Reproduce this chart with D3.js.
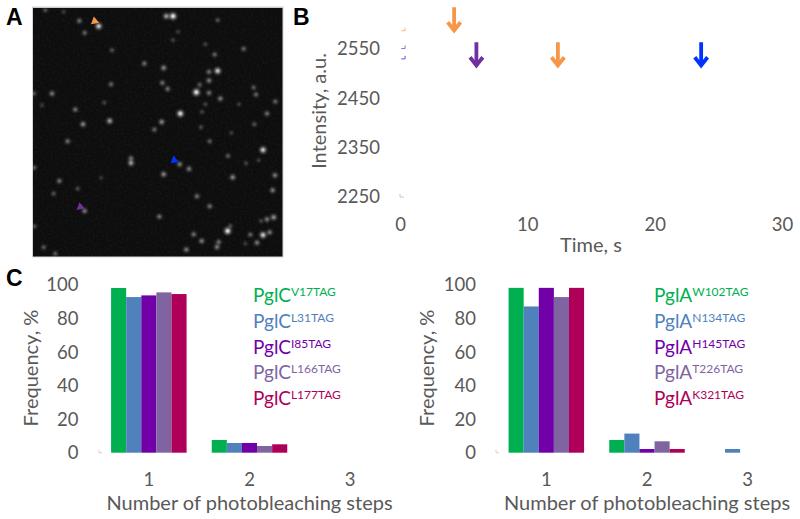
<!DOCTYPE html>
<html>
<head>
<meta charset="utf-8">
<script src="https://cdn.jsdelivr.net/npm/d3@7"></script>
<style>
html,body{margin:0;padding:0;background:#fff;}
svg{display:block;}
text{font-family:Lato,"Open Sans",sans-serif;fill:#595959;}
.panel{font-family:"Liberation Sans",sans-serif;font-weight:bold;font-size:23px;fill:#000;}
.tick text{font-size:18.5px;}
.lab{font-size:20px;}
.leg{font-size:19px;}
.leg .sup{font-size:12px;}
</style>
</head>
<body>
<svg id="fig" width="800" height="519"></svg>
<script>
const spotX = [37,92,139,197,155,400,420,554,435,420,237,334,392,517,545,632,528,554,528,500,388,404,234,57,2,490,528,562,662,669,727,214,27,127,517,507,618,442,702,230,386,150,664,364,504,595,104,530,690,294,294,585,677,639,440,468,4,392,599,726,204,79,134,62,719,492,530,155,379,722,702,684,4,584,592,482,652,690,710,506,557,552,672,637,32,460,67];
const spotY = [30,35,62,78,98,48,48,60,95,120,150,190,203,132,163,146,215,212,241,254,248,266,252,280,280,276,278,295,262,283,304,307,315,328,312,335,312,340,340,362,365,372,372,388,381,398,423,423,449,474,488,467,480,489,492,506,502,522,531,525,533,542,565,580,570,588,618,632,649,651,657,662,678,692,677,702,703,704,696,722,725,740,727,730,741,748,760];
const spotB = [.35,.2,.5,.85,.45,.7,1,.35,.2,.25,.35,.5,.6,.25,.45,.45,.5,.85,.55,.4,.5,.5,.45,.55,.4,1,.5,.55,.4,.45,.45,.25,.2,.5,.25,.25,.2,.9,.5,.7,.6,.6,.35,.45,.3,.2,.5,.4,.85,.5,.7,.4,.2,.25,.55,.55,.4,.6,.6,.55,.15,.5,.3,.35,.55,.5,.5,.55,.5,.65,.55,.25,.35,.95,.3,.5,.45,.85,.55,.55,.5,.55,.55,.2,.4,.55,.4];
const markX = [185,424,142];
const markY = [63,480,620];
const markColors = ["#f79646","#0033ff","#7030a0"];

//panel B: only the arrows and the clipped trace ends are left in the figure
const intensityTicks = [2250,2350,2450,2550];
const timeTicks = [0,10,20,30];
const arrowTime = [4.25,6.0,12.4,23.65];
const arrowTip = [2584,2513,2513,2513];
const arrowColors = ["#f79646","#7030a0","#f79646","#0033ff"];
const stubIntensity = [2587,2551,2530];
const stubColors = ["#f9b27c","#9a70c0","#5a5ae8"];

//panel C
const steps = ["1","2","3"];
const freqTicks = [0,20,40,60,80,100];
const seriesColors = ["#00b050","#4f81bd","#7200a8","#8064a2","#ae0058"];
const pglC = [[98.2,92.8,93.8,95.6,94.6],[7.6,5.8,5.8,4,5],[0,0,0,0,0]];
const pglA = [[98.3,87.2,98.3,92.8,98.3],[7.6,11.4,2.2,6.8,2.2],[0,2.2,0,0,0]];
const pglCSup = ["V17TAG","L31TAG","I85TAG","L166TAG","L177TAG"];
const pglASup = ["W102TAG","N134TAG","H145TAG","T226TAG","K321TAG"];

const svg = d3.select("#fig");
const defs = svg.append("defs");

//soft spots for the micrograph
const grad = defs.append("radialGradient").attr("id","spot");
grad.append("stop").attr("offset","0%").attr("stop-color","#fff").attr("stop-opacity",1);
grad.append("stop").attr("offset","30%").attr("stop-color","#fff").attr("stop-opacity",.6);
grad.append("stop").attr("offset","65%").attr("stop-color","#fff").attr("stop-opacity",.15);
grad.append("stop").attr("offset","100%").attr("stop-color","#fff").attr("stop-opacity",0);

const noise = defs.append("filter").attr("id","grain").attr("x",0).attr("y",0).attr("width","100%").attr("height","100%");
noise.append("feTurbulence").attr("type","fractalNoise").attr("baseFrequency",.45).attr("numOctaves",2).attr("seed",4);
noise.append("feColorMatrix").attr("type","matrix").attr("values","0 0 0 0 1  0 0 0 0 1  0 0 0 0 1  0.55 0 0 0 -0.2");

defs.append("clipPath").attr("id","frame").append("rect")
	.attr("x",33).attr("y",7.5).attr("width",250).attr("height",249.5);

function panelA(){
	const fx = d3.scaleLinear().domain([0,750]).range([33,283]);
	const fy = d3.scaleLinear().domain([22,770]).range([7.5,257]);
	const g = svg.append("g").attr("clip-path","url(#frame)");
	g.append("rect").attr("x",33).attr("y",7.5).attr("width",250).attr("height",249.5).attr("fill","#0d0d0d");
	g.append("rect").attr("x",33).attr("y",7.5).attr("width",250).attr("height",249.5).attr("filter","url(#grain)").attr("opacity",.14);

	g.selectAll("circle").data(spotX).enter().append("circle")
		.attr("cx",d=>fx(d))
		.attr("cy",(d,i)=>fy(spotY[i]))
		.attr("r",(d,i)=>4+2*spotB[i])
		.attr("fill","url(#spot)")
		.attr("opacity",(d,i)=>.15+.85*spotB[i]*spotB[i]+.12*spotB[i]);

	//little coloured markers next to the picked spots
	g.selectAll("path").data(markX).enter().append("path")
		.attr("d",d3.symbol(d3.symbolTriangle,30))
		.attr("transform",(d,i)=>`translate(${fx(d)},${fy(markY[i])}) rotate(-10)`)
		.attr("fill",(d,i)=>markColors[i]);

	svg.append("rect").attr("x",32.5).attr("y",7).attr("width",250.5).attr("height",250)
		.attr("fill","none").attr("stroke","#d4d4d4");
}

function panelB(){
	const x = d3.scaleLinear().domain([0,30]).range([400,782]);
	const y = d3.scaleLinear().domain([2250,2550]).range([197,49]);

	const gy = svg.append("g").attr("transform","translate(380,0)")
		.call(d3.axisLeft(y).tickValues(intensityTicks).tickSize(0).tickPadding(0).tickFormat(d3.format("d")));
	gy.select(".domain").remove();
	const gx = svg.append("g").attr("transform","translate(0,218)")
		.call(d3.axisBottom(x).tickValues(timeTicks).tickSize(0).tickPadding(0));
	gx.select(".domain").remove();

	svg.append("text").attr("class","lab").attr("text-anchor","middle")
		.attr("transform","translate(326,111) rotate(-90)").text("Intensity, a.u.");
	svg.append("text").attr("class","lab").attr("text-anchor","middle")
		.attr("x",591).attr("y",252).text("Time, s");

	//trace ends at the left edge
	svg.selectAll(".stub").data(stubIntensity).enter().append("path")
		.attr("class","stub")
		.attr("d",d=>`M${x(0.1)},${y(d)}H${x(0.4)}v-3`)
		.attr("fill","none").attr("stroke",(d,i)=>stubColors[i]).attr("stroke-width",1);
	svg.append("path").attr("d",`M${x(0)},${y(2250)-3}v3H${x(0.3)}`)
		.attr("fill","none").attr("stroke","#c8c4d0");

	const arrows = svg.selectAll(".arrow").data(arrowTime).enter().append("g").attr("class","arrow")
		.attr("transform",(d,i)=>`translate(${x(d)},${y(arrowTip[i])})`)
		.attr("fill","none").attr("stroke-width",3.8)
		.attr("stroke",(d,i)=>arrowColors[i]);
	arrows.append("path").attr("d","M0,-25V-2");
	arrows.append("path").attr("d","M-6.4,-10L0,-1.8L6.4,-10");
}

function barPanel(left,right,vals,name,sups,labX,legX,stubX){
	const x0 = d3.scaleBand().domain(steps).range([left,right]).paddingInner(.25).paddingOuter(.125);
	const x1 = d3.scaleBand().domain(d3.range(5)).range([0,x0.bandwidth()]);
	const y = d3.scaleLinear().domain([0,100]).range([452.7,285]);

	const gy = svg.append("g").attr("transform",`translate(${left-20},0)`)
		.call(d3.axisLeft(y).tickValues(freqTicks).tickSize(0).tickPadding(0));
	gy.select(".domain").remove();
	const gx = svg.append("g").attr("transform","translate(0,473)")
		.call(d3.axisBottom(x0).tickSize(0).tickPadding(0));
	gx.select(".domain").remove();

	const groups = svg.append("g").selectAll("g").data(vals).enter().append("g")
		.attr("transform",(d,i)=>`translate(${x0(steps[i])},0)`);
	groups.selectAll("rect").data(d=>d).enter().append("rect")
		.attr("x",(d,i)=>x1(i))
		.attr("width",x1.bandwidth())
		.attr("y",d=>y(d))
		.attr("height",d=>y(0)-y(d))
		.attr("fill",(d,i)=>seriesColors[i]);

	svg.append("path").attr("d",`M${stubX},${y(0)-3}v3h3`).attr("fill","none").attr("stroke","#d0d0d0");

	svg.append("text").attr("class","lab").attr("text-anchor","middle")
		.attr("transform",`translate(${labX},368) rotate(-90)`).text("Frequency, %");
	svg.append("text").attr("class","lab").attr("text-anchor","middle")
		.attr("x",x0("2")+x0.bandwidth()/2).attr("y",510).text("Number of photobleaching steps");

	const rowY = d3.scalePoint().domain(d3.range(5)).range([302,405]);
	const leg = svg.selectAll(null).data(sups).enter().append("text").attr("class","leg")
		.attr("x",legX).attr("y",(d,i)=>rowY(i))
		.style("fill",(d,i)=>seriesColors[i]);
	leg.append("tspan").style("fill","inherit").text(name);
	leg.append("tspan").attr("class","sup").attr("dy",-6).style("fill","inherit").text(d=>d);
}

panelA();
panelB();
barPanel(98.5,400.5,pglC,"PglC",pglCSup,38,253,99);
barPanel(496,798,pglA,"PglA",pglASup,434,654,496);

svg.append("text").attr("class","panel").attr("x",6).attr("y",25).text("A");
svg.append("text").attr("class","panel").attr("x",293).attr("y",25).text("B");
svg.append("text").attr("class","panel").attr("x",6).attr("y",286).text("C");
</script>
</body>
</html>
